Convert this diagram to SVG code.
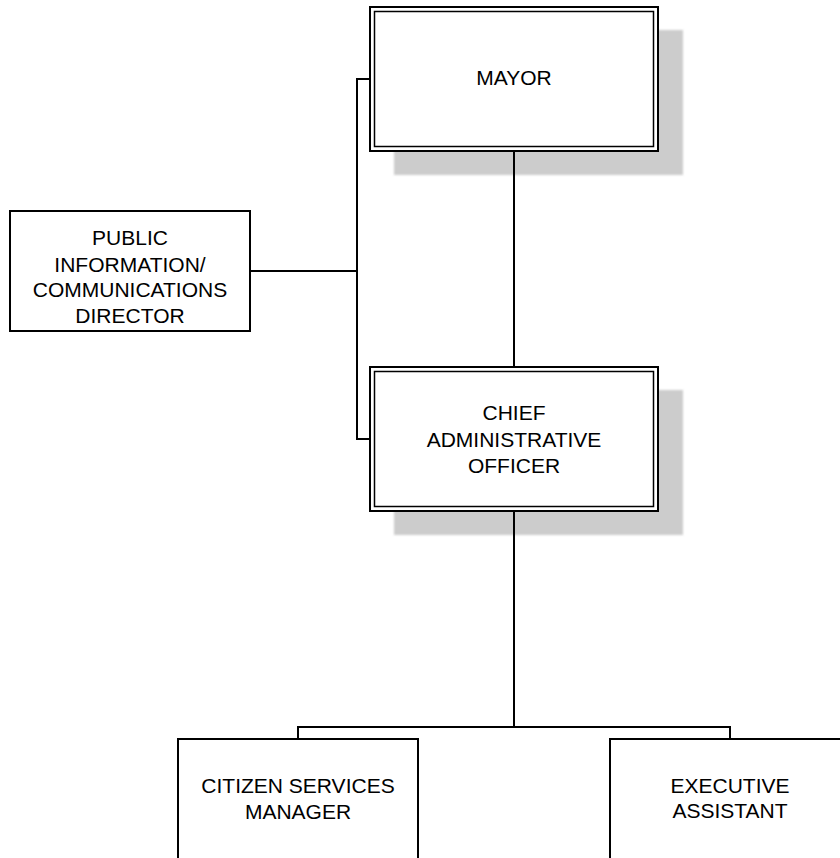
<svg xmlns="http://www.w3.org/2000/svg" width="840" height="858" viewBox="0 0 840 858">
  <style>
    .box { fill: #ffffff; stroke: #000000; stroke-width: 2; }
    .inner { fill: none; stroke: #000000; stroke-width: 1.5; }
    .shadow { fill: #cccccc; filter: url(#soft); }
    .wire { fill: none; stroke: #000000; stroke-width: 2; }
    .label { font-family: "Liberation Sans", Arial, sans-serif; font-size: 21px; fill: #000000; text-anchor: middle; }
  </style>
  <defs>
    <filter id="soft" x="-5%" y="-5%" width="110%" height="110%">
      <feGaussianBlur stdDeviation="0.8"/>
    </filter>
  </defs>
  <rect width="840" height="858" fill="#ffffff"/>

  <!-- mayor -->
  <g id="mayor">
    <rect class="shadow" x="394" y="30" width="289" height="145"/>
    <rect class="box" x="370" y="7" width="288" height="144"/>
    <rect class="inner" x="374.5" y="11.5" width="279" height="135"/>
    <text class="label" x="514" y="85">MAYOR</text>
  </g>

  <!-- public information / communications director -->
  <g id="public-info">
    <rect class="box" x="10" y="211" width="240" height="120"/>
    <text class="label" x="130" y="245">PUBLIC</text>
    <text class="label" x="130" y="271.5">INFORMATION/</text>
    <text class="label" x="130" y="297">COMMUNICATIONS</text>
    <text class="label" x="130" y="323">DIRECTOR</text>
  </g>

  <!-- chief administrative officer -->
  <g id="cao">
    <rect class="shadow" x="394" y="390" width="289" height="145"/>
    <rect class="box" x="370" y="367" width="288" height="144"/>
    <rect class="inner" x="374.5" y="371.5" width="279" height="135"/>
    <text class="label" x="514" y="420">CHIEF</text>
    <text class="label" x="514" y="447">ADMINISTRATIVE</text>
    <text class="label" x="514" y="473">OFFICER</text>
  </g>

  <!-- citizen services manager -->
  <g id="citizen-services">
    <rect class="box" x="178" y="739" width="240" height="122"/>
    <text class="label" x="298" y="793">CITIZEN SERVICES</text>
    <text class="label" x="298" y="819">MANAGER</text>
  </g>

  <!-- executive assistant -->
  <g id="executive-assistant">
    <rect class="box" x="610" y="739" width="240" height="122"/>
    <text class="label" x="730" y="793">EXECUTIVE</text>
    <text class="label" x="730" y="818">ASSISTANT</text>
  </g>

  <!-- connectors, drawn over the drop shadows -->
  <g id="connectors">
    <line class="wire" x1="514" y1="152" x2="514" y2="366"/>
    <polyline class="wire" points="369,79 357,79 357,439 369,439"/>
    <line class="wire" x1="251" y1="271" x2="357" y2="271"/>
    <line class="wire" x1="514" y1="512" x2="514" y2="727"/>
    <polyline class="wire" points="298,738 298,727 730,727 730,738"/>
  </g>
</svg>
